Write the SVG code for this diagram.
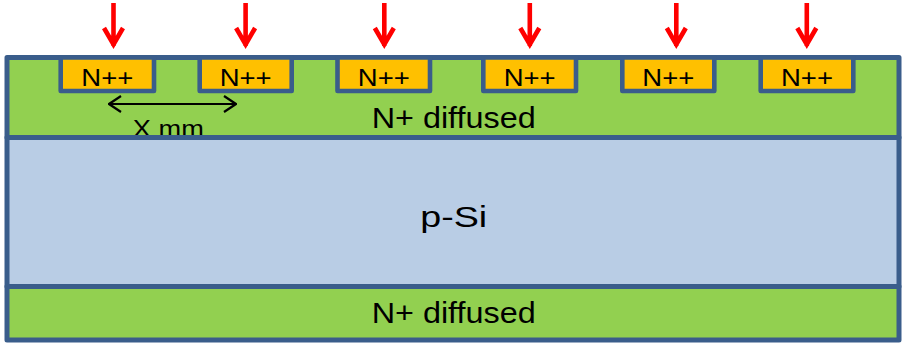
<svg xmlns="http://www.w3.org/2000/svg" width="904" height="346" viewBox="0 0 904 346">
  <style>
    .layer { stroke: #3A5D8B; stroke-width: 5; stroke-linejoin: round; }
    .green { fill: #92D050; }
    .blue { fill: #B9CDE5; }
    .pad { fill: #FFC000; stroke: #3A5D8B; stroke-width: 4.6; stroke-linejoin: round; }
    .lbl { font-family: "Liberation Sans", Arial, sans-serif; fill: #000; text-anchor: middle; }
    .beam { stroke: #FF0000; stroke-width: 4.6; fill: none; stroke-linejoin: miter; }
    .dim { stroke: #000; stroke-width: 2.2; fill: none; }
  </style>
  <defs>
    <marker id="open" viewBox="0 0 14 18" refX="13" refY="9" markerWidth="14" markerHeight="18" markerUnits="userSpaceOnUse" orient="auto-start-reverse">
      <polyline points="1,1 13,9 1,17" fill="none" stroke="#000" stroke-width="2.2"/>
    </marker>
  </defs>

  <rect width="904" height="346" fill="#FFFFFF"/>

  <!-- top N+ diffused layer -->
  <g id="top-layer">
    <rect class="layer green" x="7" y="57.5" width="892" height="80"/>
  </g>

  <!-- N++ implants -->
  <g id="pad-1"><rect class="pad" x="60.7" y="57.5" width="93.3" height="33.5"/><text class="lbl" x="107.3" y="85.5" font-size="23" textLength="52" lengthAdjust="spacingAndGlyphs">N++</text></g>
  <g id="pad-2"><rect class="pad" x="199.7" y="57.5" width="92" height="33.5"/><text class="lbl" x="245.7" y="85.5" font-size="23" textLength="52" lengthAdjust="spacingAndGlyphs">N++</text></g>
  <g id="pad-3"><rect class="pad" x="337.5" y="57.5" width="92.5" height="33.5"/><text class="lbl" x="383.8" y="85.5" font-size="23" textLength="52" lengthAdjust="spacingAndGlyphs">N++</text></g>
  <g id="pad-4"><rect class="pad" x="483.3" y="57.5" width="92.7" height="33.5"/><text class="lbl" x="529.7" y="85.5" font-size="23" textLength="52" lengthAdjust="spacingAndGlyphs">N++</text></g>
  <g id="pad-5"><rect class="pad" x="622.3" y="57.5" width="92" height="33.5"/><text class="lbl" x="668.3" y="85.5" font-size="23" textLength="52" lengthAdjust="spacingAndGlyphs">N++</text></g>
  <g id="pad-6"><rect class="pad" x="760.7" y="57.5" width="92.6" height="33.5"/><text class="lbl" x="807" y="85.5" font-size="23" textLength="52" lengthAdjust="spacingAndGlyphs">N++</text></g>

  <!-- pitch dimension -->
  <g id="pitch">
    <line class="dim" x1="109" y1="104" x2="236" y2="104" marker-start="url(#open)" marker-end="url(#open)"/>
    <text class="lbl" x="168.3" y="137" font-size="24" textLength="71" lengthAdjust="spacingAndGlyphs">X mm</text>
  </g>

  <g id="top-label">
    <text class="lbl" x="453.7" y="128.3" font-size="29" textLength="164" lengthAdjust="spacingAndGlyphs">N+ diffused</text>
  </g>

  <!-- bulk -->
  <g id="bulk">
    <rect class="layer blue" x="7" y="137.5" width="892" height="149"/>
    <text class="lbl" x="453.7" y="226.5" font-size="30" textLength="67" lengthAdjust="spacingAndGlyphs">p-Si</text>
  </g>

  <!-- bottom N+ diffused layer -->
  <g id="bottom-layer">
    <rect class="layer green" x="7" y="286.5" width="892" height="53.5"/>
    <text class="lbl" x="453.7" y="323.3" font-size="29" textLength="164" lengthAdjust="spacingAndGlyphs">N+ diffused</text>
  </g>

  <!-- incident beams -->
  <g id="beams">
    <path class="beam" d="M113.5,3 V46 M104,28 L113.5,44.5 L123,28"/>
    <path class="beam" d="M245.6,3 V46 M236.1,28 L245.6,44.5 L255.1,28"/>
    <path class="beam" d="M384.3,3 V46 M374.8,28 L384.3,44.5 L393.8,28"/>
    <path class="beam" d="M529.8,3 V46 M520.3,28 L529.8,44.5 L539.3,28"/>
    <path class="beam" d="M676.3,3 V46 M666.8,28 L676.3,44.5 L685.8,28"/>
    <path class="beam" d="M806.8,3 V46 M797.3,28 L806.8,44.5 L816.3,28"/>
  </g>
</svg>
